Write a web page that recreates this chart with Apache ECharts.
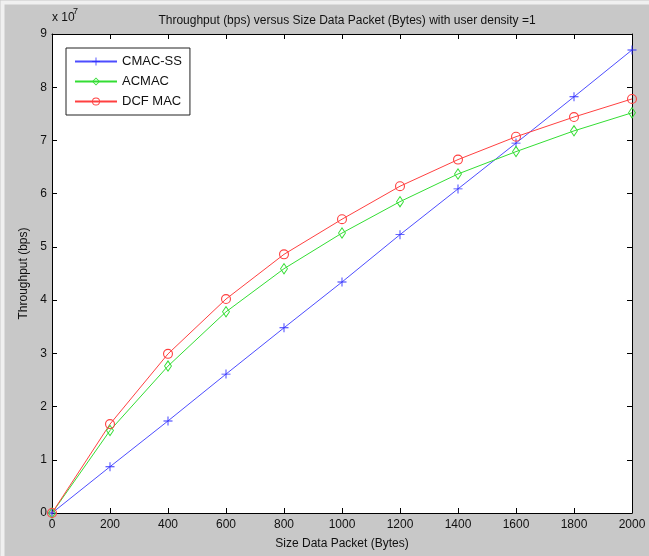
<!DOCTYPE html>
<html><head><meta charset="utf-8">
<script src="https://cdn.jsdelivr.net/npm/echarts@6/dist/echarts.min.js"></script>
<style>html,body{margin:0;padding:0;background:#fff}#c{width:649px;height:556px}</style>
</head><body><div id="c"></div>
<script>
const packetSizes = [0,200,400,600,800,1000,1200,1400,1600,1800,2000];
const cmacSS = [0,0.87e7,1.73e7,2.61e7,3.48e7,4.34e7,5.23e7,6.09e7,6.95e7,7.82e7,8.70e7];
const acmac  = [0,1.55e7,2.76e7,3.78e7,4.59e7,5.26e7,5.85e7,6.37e7,6.79e7,7.18e7,7.52e7];
const dcfMac = [0,1.67e7,2.99e7,4.02e7,4.86e7,5.52e7,6.14e7,6.64e7,7.07e7,7.44e7,7.78e7];
const seriesNames = ['CMAC-SS','ACMAC','DCF MAC'];
const yTickLabels = ['0','1','2','3','4','5','6','7','8','9'];

const pair = arr => packetSizes.map((x,i)=>[x,arr[i]]);
const plus = 'path://M4.5,0H5.5V4.5H10V5.5H5.5V10H4.5V5.5H0V4.5H4.5Z';
const ring = 'path://M5,0A5,5 0 1 1 5,10A5,5 0 1 1 5,0ZM5,1.1A3.9,3.9 0 1 0 5,8.9A3.9,3.9 0 1 0 5,1.1Z';
const diamondRing = 'path://M5,0L10,5L5,10L0,5ZM5,1.5L1.3,5L5,8.5L8.7,5Z';
const font = 'Arial, "Liberation Sans", sans-serif';
const axisCommon = {
  axisLine:{show:true,onZero:false,lineStyle:{color:'#000',width:1}},
  axisTick:{show:true,inside:true,length:5,lineStyle:{color:'#000'}},
  splitLine:{show:false}
};
const chart = echarts.init(document.getElementById('c'));
chart.setOption({
  backgroundColor:'#c8c8c8',
  animation:false,
  textStyle:{fontFamily:font},
  title:{text:'Throughput (bps) versus Size Data Packet (Bytes) with user density =1',
    left:342,top:10,textAlign:'center',
    textStyle:{fontSize:12,fontWeight:'normal',color:'#111',fontFamily:font}},
  grid:{left:52,right:17,top:34,bottom:43,show:true,backgroundColor:'#fff',borderWidth:0},
  graphic:[
    {type:'text',left:52,top:12,style:{text:'x 10',fontSize:12,fill:'#111',fontFamily:font}},
    {type:'text',left:73,top:7,style:{text:'7',fontSize:9,fill:'#111',fontFamily:font}},
    {type:'rect',left:0,top:0,shape:{width:649,height:556},style:{fill:'none',stroke:'#f0f0f0',lineWidth:4},silent:true}
  ],
  xAxis:[
    Object.assign({type:'value',min:0,max:2000,interval:200,position:'bottom',
      name:'Size Data Packet (Bytes)',nameLocation:'middle',nameGap:25,
      nameTextStyle:{fontSize:12,color:'#111',fontFamily:font},
      axisLabel:{fontSize:12,color:'#111',margin:6,fontFamily:font,formatter:v=>String(v)}},axisCommon),
    Object.assign({type:'value',min:0,max:2000,interval:200,position:'top',axisLabel:{show:false}},axisCommon)
  ],
  yAxis:[
    Object.assign({type:'value',min:0,max:9e7,interval:1e7,position:'left',
      name:'Throughput (bps)',nameLocation:'middle',nameGap:14,
      nameTextStyle:{fontSize:12,color:'#111',fontFamily:font},
      axisLabel:{fontSize:12,color:'#111',margin:5,fontFamily:font,
        formatter:v=>yTickLabels[Math.round(v/1e7)]}},axisCommon),
    Object.assign({type:'value',min:0,max:9e7,interval:1e7,position:'right',axisLabel:{show:false}},axisCommon)
  ],
  legend:{
    left:66,top:48,orient:'vertical',
    backgroundColor:'#fff',borderColor:'#222',borderWidth:1,
    padding:[7,8,7,8],itemGap:7,itemWidth:42,itemHeight:10,
    textStyle:{fontSize:13,color:'#111',fontFamily:font},
    data:seriesNames
  },
  series:[
    {name:seriesNames[0],type:'line',data:pair(cmacSS),symbol:plus,symbolSize:9,
      color:'#4d4dff',lineStyle:{width:1,color:'#4d4dff'},itemStyle:{color:'#3333ff',borderWidth:0}},
    {name:seriesNames[1],type:'line',data:pair(acmac),symbol:diamondRing,symbolSize:[8,12],symbolKeepAspect:false,
      color:'#33dd33',lineStyle:{width:1,color:'#33dd33'},itemStyle:{color:'#33dd33',borderWidth:0}},
    {name:seriesNames[2],type:'line',data:pair(dcfMac),symbol:ring,symbolSize:10,
      color:'#ff4040',lineStyle:{width:1,color:'#ff4040'},itemStyle:{color:'#ff4040',borderWidth:0}}
  ]
});
</script></body></html>
